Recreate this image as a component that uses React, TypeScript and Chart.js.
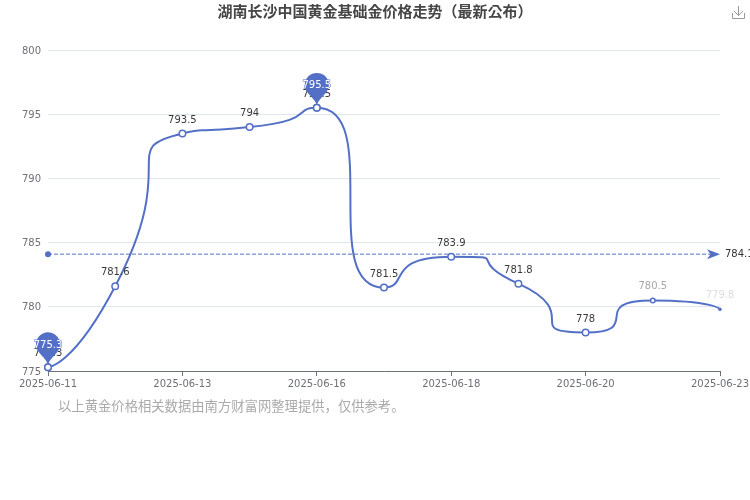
import React, { useEffect, useRef } from "react";
import { Chart, registerables } from "chart.js";

Chart.register(...registerables);

const categories = ["2025-06-11","2025-06-12","2025-06-13","2025-06-14","2025-06-16","2025-06-17","2025-06-18","2025-06-19","2025-06-20","2025-06-21","2025-06-23"];
const prices = [775.3, 781.6, 793.5, 794, 795.5, 781.5, 783.9, 781.8, 778, 780.5, 779.8];
const average = [784.1, 784.1, 784.1, 784.1, 784.1, 784.1, 784.1, 784.1, 784.1, 784.1, 784.1];
const titleText = "湖南长沙中国黄金基础金价格走势（最新公布）";
const footnote = "以上黄金价格相关数据由南方财富网整理提供，仅供参考。";

const BLUE = "#5470c6";
const LATIN = "'DejaVu Sans', 'Noto Sans CJK KR', sans-serif";
const CJK = "'Noto Sans CJK KR', sans-serif";

// Same smoothing the source chart uses: control points limited to each segment's box.
function smoothPoints(pts: any[], smooth: number) {
  const clamp = (v: number, a: number, b: number) => Math.max(Math.min(v, Math.max(a, b)), Math.min(a, b));
  pts[0].cp1x = pts[0].x; pts[0].cp1y = pts[0].y;
  let next0x = pts[0].x, next0y = pts[0].y;
  for (let i = 1; i < pts.length; i++) {
    const p = pts[i - 1], c = pts[i], n = pts[i + 1];
    p.cp2x = next0x; p.cp2y = next0y;
    if (!n) { c.cp1x = c.x; c.cp1y = c.y; c.cp2x = c.x; c.cp2y = c.y; break; }
    let vx = n.x - p.x, vy = n.y - p.y;
    const lp = Math.hypot(c.x - p.x, c.y - p.y);
    const ln = Math.hypot(n.x - c.x, n.y - c.y);
    const r = ln / (ln + lp);
    const nx = clamp(c.x + vx * smooth * r, n.x, c.x);
    const ny = clamp(c.y + vy * smooth * r, n.y, c.y);
    vx = nx - c.x; vy = ny - c.y;
    const cx = clamp(c.x - vx * lp / ln, p.x, c.x);
    const cy = clamp(c.y - vy * lp / ln, p.y, c.y);
    vx = c.x - cx; vy = c.y - cy;
    next0x = c.x + vx * ln / lp;
    next0y = c.y + vy * ln / lp;
    c.cp1x = cx; c.cp1y = cy;
  }
}

function drawPin(ctx: CanvasRenderingContext2D, x: number, y: number, label: string) {
  const size = 40, w = size * 0.6, h = Math.max(w, size), r = w / 2;
  const dy = (r * r) / (h - r), cy = y - h + r + dy, angle = Math.asin(dy / r);
  const dx = Math.cos(angle) * r, tanX = Math.sin(angle), tanY = Math.cos(angle);
  const l1 = r * 0.6, l2 = r * 0.7;
  ctx.beginPath();
  ctx.moveTo(x - dx, cy + dy);
  ctx.arc(x, cy, r, Math.PI - angle, Math.PI * 2 + angle);
  ctx.bezierCurveTo(x + dx - tanX * l1, cy + dy + tanY * l1, x, y - l2, x, y);
  ctx.bezierCurveTo(x, y - l2, x - dx + tanX * l1, cy + dy + tanY * l1, x - dx, cy + dy);
  ctx.closePath();
  ctx.fillStyle = BLUE;
  ctx.fill();
  ctx.font = `10px ${LATIN}`;
  ctx.textAlign = "center";
  ctx.textBaseline = "middle";
  ctx.lineWidth = 1;
  ctx.strokeStyle = BLUE;
  ctx.strokeText(label, x, y - 22);
  ctx.fillStyle = "#ffffff";
  ctx.fillText(label, x, y - 22);
}

const overlay = {
  id: "overlay",
  beforeDatasetsDraw(chart: any) {
    const meta = chart.getDatasetMeta(0);
    meta.dataset.updateControlPoints(chart.chartArea, "x");
    smoothPoints(meta.data, 1);
  },
  afterDraw(chart: any) {
    const ctx: CanvasRenderingContext2D = chart.ctx;
    const xs = chart.scales.x, ys = chart.scales.y;
    ctx.save();
    // value labels
    ctx.font = `10px ${LATIN}`;
    ctx.textAlign = "center";
    ctx.textBaseline = "middle";
    prices.forEach((v, i) => {
      ctx.fillStyle = i === 10 ? "#dddddd" : i === 9 ? "#a6a6a6" : "#3a3a3a";
      ctx.fillText(String(v), xs.getPixelForValue(i), ys.getPixelForValue(v) - 13.5);
    });
    // highest and lowest pins
    const hi = prices.indexOf(Math.max(...prices));
    const lo = prices.indexOf(Math.min(...prices));
    [hi, lo].forEach((i) => drawPin(ctx, xs.getPixelForValue(i), ys.getPixelForValue(prices[i]), String(prices[i])));
    // redraw the two pinned points on top of the pin tips
    const meta = chart.getDatasetMeta(0).data;
    [hi, lo].forEach((i) => {
      ctx.beginPath();
      ctx.arc(meta[i].x, meta[i].y, 3.25, 0, Math.PI * 2);
      ctx.fillStyle = "#fff";
      ctx.strokeStyle = BLUE;
      ctx.lineWidth = 1.5;
      ctx.fill();
      ctx.stroke();
    });
    // average line ends
    const ay = ys.getPixelForValue(average[0]);
    const ax0 = xs.getPixelForValue(0), ax1 = xs.getPixelForValue(average.length - 1);
    ctx.fillStyle = BLUE;
    ctx.beginPath();
    ctx.arc(ax0, ay, 3, 0, Math.PI * 2);
    ctx.fill();
    ctx.beginPath();
    ctx.moveTo(ax1, ay);
    ctx.lineTo(ax1 - 13, ay - 5);
    ctx.lineTo(ax1 - 9.5, ay);
    ctx.lineTo(ax1 - 13, ay + 5);
    ctx.closePath();
    ctx.fill();
    ctx.fillStyle = "#333333";
    ctx.textAlign = "left";
    ctx.fillText(String(average[0]), ax1 + 5, ay);
    // footnote
    ctx.font = `13.33px ${CJK}`;
    ctx.fillStyle = "#aaaaaa";
    ctx.textAlign = "left";
    ctx.fillText(footnote, 58, 406);
    // save icon
    ctx.strokeStyle = "#9a9a9a";
    ctx.lineWidth = 1;
    ctx.beginPath();
    ctx.moveTo(732.5, 13); ctx.lineTo(732.5, 18.5); ctx.lineTo(744.5, 18.5); ctx.lineTo(744.5, 13);
    ctx.moveTo(738.5, 6); ctx.lineTo(738.5, 15.5);
    ctx.moveTo(734, 11); ctx.lineTo(738.5, 15.5); ctx.lineTo(743, 11);
    ctx.stroke();
    ctx.restore();
  },
};

export default function App() {
  const ref = useRef<HTMLCanvasElement>(null);
  useEffect(() => {
    const chart = new Chart(ref.current as HTMLCanvasElement, {
      type: "line",
      data: {
        labels: categories,
        datasets: [
          {
            label: "价格",
            data: prices,
            borderColor: BLUE,
            borderWidth: 2,
            tension: 0.5,
            clip: false,
            pointBackgroundColor: (c: any) => (c.dataIndex === 10 ? BLUE : "#ffffff"),
            pointBorderColor: BLUE,
            pointBorderWidth: (c: any) => (c.dataIndex === 10 ? 0.5 : 1.5),
            pointRadius: (c: any) => (c.dataIndex === 10 ? 1.5 : c.dataIndex === 9 ? 2.25 : 3.25),
            order: 1,
          },
          {
            label: "平均值",
            data: average,
            borderColor: BLUE,
            borderWidth: 1,
            borderDash: [4, 2],
            pointRadius: 0,
            tension: 0,
            clip: false,
            order: 2,
          },
        ],
      },
      options: {
        animation: false,
        responsive: false,
        layout: { padding: 0 },
        plugins: {
          legend: { display: false },
          tooltip: { enabled: false },
          title: {
            display: true,
            text: titleText,
            color: "#464646",
            font: { size: 15, weight: "bold", family: CJK, lineHeight: 1.2 },
            padding: { top: 2, bottom: 30 },
          },
        },
        scales: {
          x: {
            afterFit: (s: any) => { s.height = 129; s.paddingRight = 30; s.paddingLeft = 0; },
            border: { color: "#6e7079", width: 1 },
            grid: {
              drawOnChartArea: false,
              tickLength: 5,
              tickColor: (c: any) => (c.index % 2 === 0 ? "#6e7079" : "rgba(0,0,0,0)"),
            },
            ticks: {
              autoSkip: false,
              maxRotation: 0,
              padding: 2,
              color: "#6e7079",
              font: { size: 10, family: LATIN },
              callback: (_v: any, i: number) => (i % 2 === 0 ? categories[i] : ""),
            },
          },
          y: {
            min: 775,
            max: 800,
            afterFit: (s: any) => { s.width = 48; },
            border: { display: false },
            grid: { color: "#e0e6f1", drawTicks: false },
            ticks: {
              stepSize: 5,
              padding: 7,
              labelOffset: 1,
              color: "#6e7079",
              font: { size: 10, family: LATIN },
            },
          },
        },
      },
      plugins: [overlay],
    } as any);
    return () => chart.destroy();
  }, []);
  return (
    <div style={{ position: "absolute", left: 0, top: 0, width: 750, height: 500 }}>
      <canvas ref={ref} width={750} height={500} style={{ display: "block", width: 750, height: 500 }} />
    </div>
  );
}
